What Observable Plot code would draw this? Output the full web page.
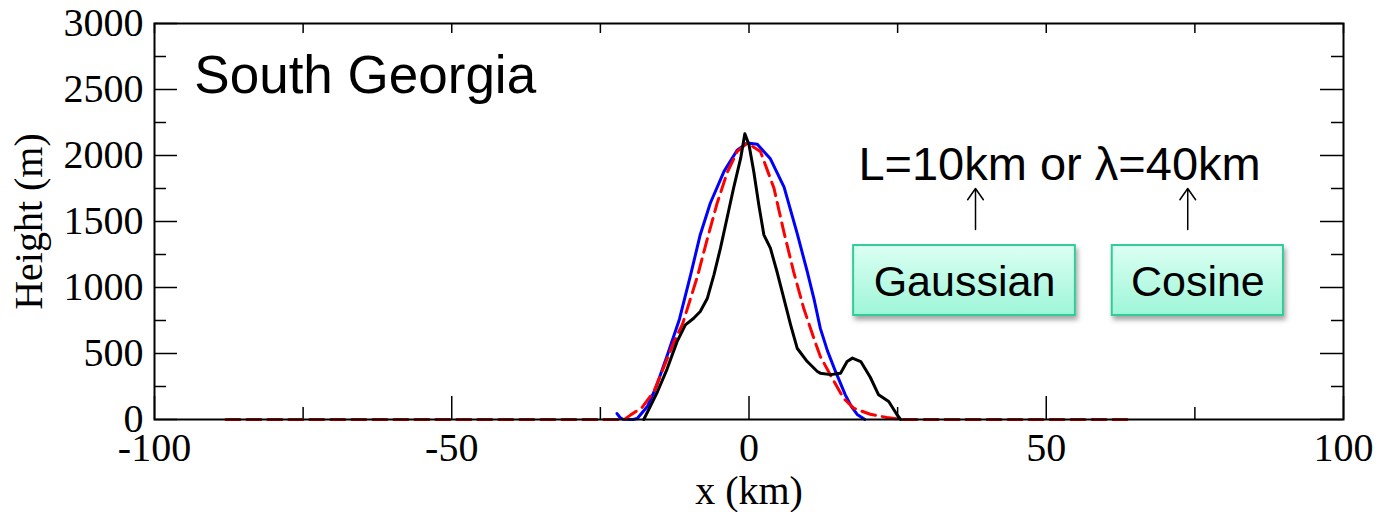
<!DOCTYPE html>
<html>
<head>
<meta charset="utf-8">
<script src="https://cdn.jsdelivr.net/npm/d3@7"></script>
<script src="https://cdn.jsdelivr.net/npm/@observablehq/plot@0.6"></script>
<style>
  body { margin: 0; background: #fff; }
</style>
</head>
<body>
<div id="chart"></div>
<script>
// ---- Data ----
// Observed South Georgia cross-section (black)
const obsX = [-17.7, -16.6, -15.4, -13.8, -12.1, -10.7, -9.3, -8.2, -7.0, -5.9, -4.8, -3.7, -2.6, -1.4, -0.7, 0.0, 0.8, 1.65, 2.5, 3.6, 4.7, 5.85, 7.0, 8.1, 9.8, 11.5, 12.0, 13.7, 15.4, 16.5, 17.4, 18.8, 20.4, 21.8, 23.5, 24.9, 25.5];
const obsH = [0, 100, 210, 380, 590, 717, 767, 818, 919, 1096, 1298, 1525, 1752, 1980, 2165, 2081, 1879, 1626, 1399, 1298, 1121, 919, 717, 540, 439, 364, 351, 340, 351, 439, 465, 439, 320, 187, 136, 36, 0];

// Cosine fit, lambda = 40 km (blue)
const cosX = [-22.2, -21.7, -21.2, -19.5, -18.8, -17.1, -15.7, -13.8, -11.7, -9.8, -8.2, -6.5, -4.2, -2.0, -0.3, 1.4, 3.6, 5.9, 8.1, 9.8, 11.0, 12.0, 13.2, 14.55, 16.2, 17.2, 18.2, 19.5];
const cosH = [45, 15, 2, 0, 8, 98, 237, 480, 760, 1100, 1400, 1640, 1880, 2040, 2095, 2085, 1975, 1760, 1410, 1120, 900, 690, 520, 364, 187, 100, 38, 0];

// Gaussian fit, L = 10 km (red dashed)
const gauX = [-88, -21.0, -19.9, -18.0, -16.0, -14.3, -12.6, -11.2, -8.7, -7.0, -5.35, -3.67, -2.0, -0.3, 1.93, 4.2, 5.85, 7.5, 9.2, 10.9, 12.0, 14.3, 15.9, 17.6, 20.4, 23.2, 25.5, 64.5];
const gauH = [0, 0, 35, 91, 212, 400, 590, 720, 1080, 1370, 1640, 1870, 2030, 2095, 2030, 1752, 1424, 1121, 843, 616, 477, 288, 161, 86, 40, 15, 0, 0];

// Axis ticks
const xTicks = [-100, -50, 0, 50, 100];
const xMinor = [-75, -25, 25, 75];
const yTicks = [0, 500, 1000, 1500, 2000, 2500, 3000];
const yMinor = [250, 750, 1250, 1750, 2250, 2750];

// Axis titles (y title position in data units, left of the frame)
const yTitle = ["Height (m)"];
const yTitleX = [-121];
const yTitleY = [1500];
const xTitle = ["x (km)"];

// Annotations (data coordinates)
const titleText = ["South Georgia"];
const titleX = [-93.3];
const titleY = [2600];

const scaleText = ["L=10km or λ=40km"];
const scaleX = [18.4];
const scaleY = [1925];

const boxText = ["Gaussian", "Cosine"];
const boxX1 = [17.6, 61.1];
const boxX2 = [54.9, 89.9];
const boxY1 = [788, 788];
const boxY2 = [1318, 1318];
const boxTextY = [1040, 1040];

const arrowX = [38.1, 73.8];
const arrowY1 = [1439, 1439];
const arrowY2 = [1750, 1750];

// ---- Build tables ----
const rows = (xs, hs) => xs.map((x, i) => ({x, h: hs[i]}));
const boxes = boxText.map((t, i) => ({t, x1: boxX1[i], x2: boxX2[i], y1: boxY1[i], y2: boxY2[i], xc: (boxX1[i] + boxX2[i]) / 2, yc: boxTextY[i]}));
const arrows = arrowX.map((x, i) => ({x, y1: arrowY1[i], y2: arrowY2[i]}));
const sans = "'Liberation Sans', Arial, sans-serif";
const serif = "'Liberation Serif', 'Times New Roman', serif";

const W = 1391, H = 512, ML = 154, MR = 48, MT = 23, MB = 93;
const FW = W - ML - MR, FH = H - MT - MB;
const id = d => d;
const tk = {stroke: "#000", strokeWidth: 1.5};

const svg = Plot.plot({
  width: W,
  height: H,
  marginLeft: ML,
  marginRight: MR,
  marginTop: MT,
  marginBottom: MB,
  x: {domain: [-100, 100], axis: null},
  y: {domain: [0, 3000], axis: null},
  style: {fontFamily: serif, fontSize: "40px", background: "#fff", color: "#000"},
  marks: [
    // inward ticks: bottom, top, left, right
    Plot.ruleX(xTicks, {x: id, insetTop: FH - 23, ...tk}),
    Plot.ruleX(xMinor, {x: id, insetTop: FH - 12, ...tk}),
    Plot.ruleX(xTicks, {x: id, insetBottom: FH - 10, ...tk}),
    Plot.ruleX(xMinor, {x: id, insetBottom: FH - 10, ...tk}),
    Plot.ruleY(yTicks, {y: id, insetRight: FW - 23, ...tk}),
    Plot.ruleY(yMinor, {y: id, insetRight: FW - 12, ...tk}),
    Plot.ruleY(yTicks, {y: id, insetLeft: FW - 23, ...tk}),
    Plot.ruleY(yMinor, {y: id, insetLeft: FW - 12, ...tk}),
    // tick labels
    Plot.text(xTicks, {x: id, text: d => String(d), frameAnchor: "bottom", lineAnchor: "top", dy: 13, fontSize: 40, fill: "#000"}),
    Plot.text(yTicks, {y: id, text: d => String(d), frameAnchor: "left", textAnchor: "end", lineAnchor: "middle", dx: -11, fontSize: 40, fill: "#000"}),
    // axis titles
    Plot.text(yTitle, {x: yTitleX, y: yTitleY, text: id, rotate: -90, textAnchor: "middle", lineAnchor: "middle", fontSize: 40, fill: "#000", ariaLabel: "y title"}),
    Plot.text(xTitle, {text: id, frameAnchor: "bottom", textAnchor: "middle", dy: 84, fontSize: 40, fill: "#000"}),
    // data lines
    Plot.line(rows(cosX, cosH), {x: "x", y: "h", stroke: "#0000ff", strokeWidth: 3}),
    Plot.line(rows(gauX, gauH), {x: "x", y: "h", stroke: "#ff0000", strokeWidth: 3, strokeDasharray: "14,7"}),
    Plot.line(rows(obsX, obsH), {x: "x", y: "h", stroke: "#000000", strokeWidth: 3}),
    Plot.frame({stroke: "#000", strokeWidth: 2}),
    // annotations
    Plot.text(titleText, {x: titleX, y: titleY, text: id, textAnchor: "start", lineAnchor: "middle", fontFamily: sans, fontSize: 53, fill: "#000"}),
    Plot.text(scaleText, {x: scaleX, y: scaleY, text: id, textAnchor: "start", lineAnchor: "middle", fontFamily: sans, fontSize: 47, fill: "#000"}),
    Plot.arrow(arrows, {x: "x", y1: "y1", y2: "y2", stroke: "#000", strokeWidth: 1.5, headLength: 16, headAngle: 70}),
    Plot.rect(boxes, {x1: "x1", x2: "x2", y1: "y1", y2: "y2", fill: "url(#boxgrad)", stroke: "#33cc99", strokeWidth: 2, ariaLabel: "note box"}),
    Plot.text(boxes, {x: "xc", y: "yc", text: "t", lineAnchor: "middle", fontFamily: sans, fontSize: 43, fill: "#000"})
  ]
});

const root = d3.select(svg);
root.select('g[aria-label="y title"]').style("font-size", "40px");

// gradient + drop shadow for the label boxes
const defs = root.insert("defs", ":first-child");
const grad = defs.append("linearGradient").attr("id", "boxgrad").attr("x1", 0).attr("y1", 0).attr("x2", 0).attr("y2", 1);
grad.append("stop").attr("offset", "0%").attr("stop-color", "#dcfff4");
grad.append("stop").attr("offset", "100%").attr("stop-color", "#9ef6d8");
const filt = defs.append("filter").attr("id", "shadow").attr("x", "-10%").attr("y", "-10%").attr("width", "130%").attr("height", "150%");
filt.append("feDropShadow").attr("dx", 2).attr("dy", 4).attr("stdDeviation", 2.5).attr("flood-color", "#000").attr("flood-opacity", 0.35);
let boxG = root.selectAll('g[aria-label="note box"]');
if (boxG.empty()) boxG = root.selectAll('g[aria-label="rect"]');
boxG.attr("filter", "url(#shadow)");

document.getElementById("chart").appendChild(svg);
</script>
</body>
</html>
